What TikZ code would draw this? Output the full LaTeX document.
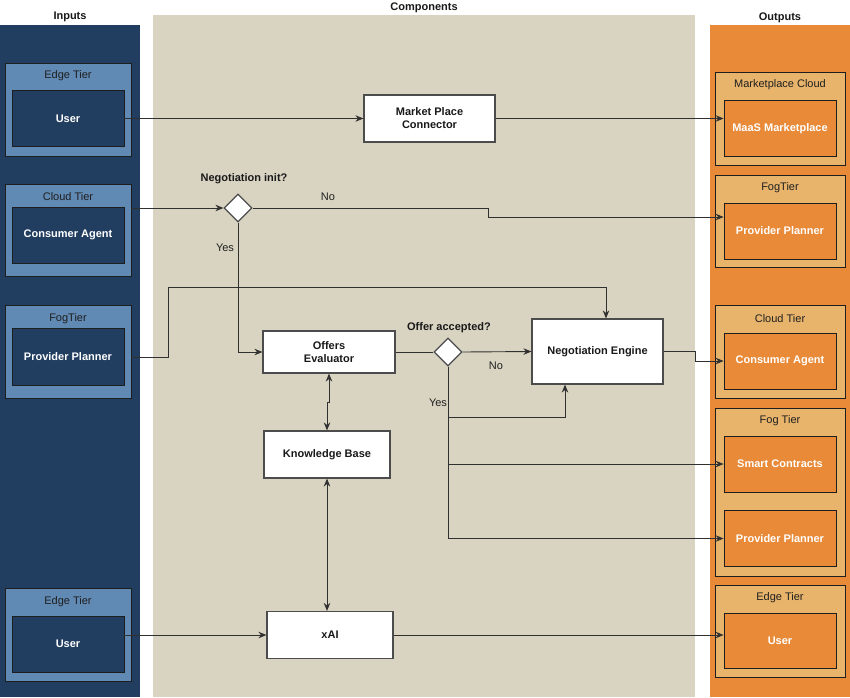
\documentclass[tikz,border=0pt]{standalone}
\usepackage{fontspec}
\setmainfont{Liberation Sans}
\usetikzlibrary{arrows.meta,shapes.geometric}
\definecolor{navy}{HTML}{213D5F}
\definecolor{inblue}{HTML}{6089B4}
\definecolor{compbg}{HTML}{D9D4C2}
\definecolor{outbg}{HTML}{E88A38}
\definecolor{outtier}{HTML}{E8B46C}
\definecolor{edgeclr}{HTML}{1E1E1E}
\definecolor{lineclr}{HTML}{303030}
\tikzset{
  txt/.style={font=\fontsize{11}{13}\selectfont, text=black!88, inner sep=0},
  btxt/.style={font=\fontsize{11}{13}\selectfont\bfseries, text=black!90, inner sep=0},
  tierin/.style={draw=edgeclr, fill=inblue, line width=0.8pt, inner sep=0, minimum width=126pt},
  innerin/.style={draw=edgeclr, fill=navy, line width=0.8pt, inner sep=0, minimum width=112pt,
    text=white, font=\fontsize{11}{13}\selectfont\bfseries},
  tierout/.style={draw=edgeclr, fill=outtier, line width=0.8pt, inner sep=0, minimum width=130pt},
  innerout/.style={draw=edgeclr, fill=outbg, line width=0.8pt, inner sep=0, minimum width=112pt,
    text=white, font=\fontsize{11}{13}\selectfont\bfseries},
  compbox/.style={draw=black!70, fill=white, line width=1.2pt, inner sep=0, align=center,
    font=\fontsize{11}{13}\selectfont\bfseries, text=black!90},
  decide/.style={diamond, aspect=1, draw=black!70, fill=white, line width=1.2pt, inner sep=0,
    minimum width=28pt, minimum height=28pt},
  arr/.style={draw=lineclr, line width=0.9pt, -{Stealth[length=8pt,width=6.5pt]}},
  darr/.style={draw=lineclr, line width=0.9pt, {Stealth[length=8pt,width=6.5pt]}-{Stealth[length=8pt,width=6.5pt]}},
  plain/.style={draw=lineclr, line width=0.9pt}
}
\begin{document}
\begin{tikzpicture}[x=1pt,y=-1pt]
\useasboundingbox (0,0) rectangle (850,697);
\fill[white] (0,0) rectangle (850,697);
% column backgrounds
\fill[navy] (0,25) rectangle (140,697);
\fill[compbg] (153,15) rectangle (695,697);
\fill[outbg] (710,25) rectangle (850,697);
\node[btxt] (hin) at (70,17) {Inputs};
\node[btxt] (hcomp) at (424,8) {Components};
\node[btxt] (hout) at (780,18) {Outputs};

% ---------- Inputs ----------
\node[tierin, minimum height=93pt] (tin1) at (68,109.5) {};
\node[txt] (tin1t) at (68,76) {Edge Tier};
\node[innerin, minimum height=56pt] (uin1) at (68,118.5) {User};

\node[tierin, minimum height=92pt] (tin2) at (68,230.5) {};
\node[txt] (tin2t) at (68,197) {Cloud Tier};
\node[innerin, minimum height=56pt] (cain) at (68,235) {Consumer Agent};

\node[tierin, minimum height=93pt] (tin3) at (68,352) {};
\node[txt] (tin3t) at (68,319) {FogTier};
\node[innerin, minimum height=57pt] (ppin) at (68,356.5) {Provider Planner};

\node[tierin, minimum height=93pt] (tin4) at (68,634.5) {};
\node[txt] (tin4t) at (68,602) {Edge Tier};
\node[innerin, minimum height=56pt] (uin4) at (68,644) {User};

% ---------- Outputs ----------
\node[tierout, minimum height=93pt] (tout1) at (780,118.5) {};
\node[txt] (tout1t) at (780,85) {Marketplace Cloud};
\node[innerout, minimum height=56pt] (maas) at (780,128.5) {MaaS Marketplace};

\node[tierout, minimum height=92pt] (tout2) at (780,221.5) {};
\node[txt] (tout2t) at (780,188) {FogTier};
\node[innerout, minimum height=56pt] (ppout) at (780,231) {Provider Planner};

\node[tierout, minimum height=93pt] (tout3) at (780,352) {};
\node[txt] (tout3t) at (780,319) {Cloud Tier};
\node[innerout, minimum height=56pt] (caout) at (780,361) {Consumer Agent};

\node[tierout, minimum height=168pt] (tout4) at (780,492) {};
\node[txt] (tout4t) at (780,421) {Fog Tier};
\node[innerout, minimum height=56pt] (scout) at (780,464) {Smart Contracts};
\node[innerout, minimum height=56pt] (ppout2) at (780,538.5) {Provider Planner};

\node[tierout, minimum height=92pt] (tout5) at (780,631.5) {};
\node[txt] (tout5t) at (780,598) {Edge Tier};
\node[innerout, minimum height=55pt] (uout) at (780,641) {User};

% ---------- Components ----------
\node[compbox, minimum width=131pt, minimum height=47pt] (mpc) at (429.5,118.5) {Market Place\\Connector};
\node[decide] (d1) at (238,208) {};
\node[btxt] (d1l) at (244,179) {Negotiation init?};
\node[txt] (no1) at (328,197) {No};
\node[txt] (yes1) at (225,248) {Yes};

\node[compbox, minimum width=132pt, minimum height=42pt] (oe) at (329,352) {Offers\\Evaluator};
\node[decide] (d2) at (448,352) {};
\node[btxt] (d2l) at (449,328) {Offer accepted?};
\node[txt] (no2) at (496,366) {No};
\node[txt] (yes2) at (438,403) {Yes};

\node[compbox, minimum width=131pt, minimum height=65pt] (ne) at (597.5,351.5) {Negotiation Engine};
\node[compbox, minimum width=126pt, minimum height=47pt] (kb) at (327,454.5) {Knowledge Base};
\node[compbox, minimum width=126pt, minimum height=47pt] (xai) at (330,635) {xAI};

% ---------- Connectors ----------
\draw[arr] (uin1.east) -- (mpc.west);
\draw[arr] (mpc.east) -- (mpc.east -| maas.west);

\draw[arr] (tin2.east |- d1.west) -- (d1.west);
\draw[arr] (d1.east) -- (488,208) -- (488,217) -- (ppout.west |- 0,217);
\draw[arr] (d1.south) |- (oe.west);

\draw[arr] (tin3.east |- 0,357) -| (168,287) -| ([xshift=8.5pt]ne.north);

\draw[plain] (oe.east) -- (d2.west);
\draw[arr] (d2.east) -- (ne.west);
\draw[arr] (d2.south) |- (565,417) -- ([xshift=-32.5pt]ne.south);
\draw[arr] (d2.south) |- (scout.west);
\draw[arr] (d2.south) |- (ppout2.west);

\draw[arr] (ne.east) -- (695,351.5) |- (caout.west);

\draw[darr] (oe.south -| 329,0) -- (329,402) -- (327,402) -- (kb.north);
\draw[darr] (kb.south) -- (kb.south |- xai.north);

\draw[arr] (uin4.east |- xai.west) -- (xai.west);
\draw[arr] (xai.east) -- (xai.east -| uout.west);
\end{tikzpicture}
\end{document}
